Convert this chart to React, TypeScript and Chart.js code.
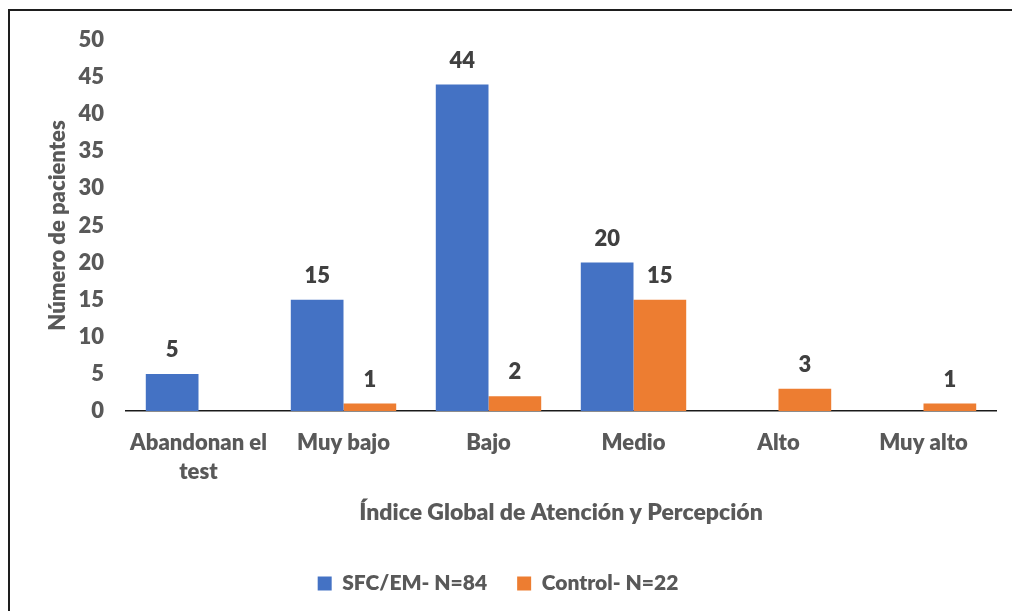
import React, { useEffect, useRef } from "react";
import { Chart, registerables } from "chart.js";

Chart.register(...registerables);

const categories: (string | string[])[] = [
  ["Abandonan el", "test"],
  "Muy bajo",
  "Bajo",
  "Medio",
  "Alto",
  "Muy alto",
];
const sfcValues: (number | null)[] = [5, 15, 44, 20, null, null];
const controlValues: (number | null)[] = [null, 1, 2, 15, 3, 1];
const seriesNames = ["SFC/EM- N=84", "Control- N=22"];
const yTicks = { min: 0, max: 50, step: 5 };
const yTitle = "Número de pacientes";
const xTitle = "Índice Global de Atención y Percepción";

const FONT = "Lato, 'Open Sans', sans-serif";
const W = 800;
const GRAY = "#595959";

const dataLabels = {
  id: "dataLabels",
  afterDatasetsDraw(chart: any) {
    const ctx = chart.ctx;
    ctx.save();
    ctx.font = `${W} 22px ${FONT}`;
    ctx.fillStyle = "#404040";
    ctx.textAlign = "center";
    ctx.textBaseline = "middle";
    chart.data.datasets.forEach((ds: any, i: number) => {
      const meta = chart.getDatasetMeta(i);
      meta.data.forEach((el: any, j: number) => {
        const v = ds.data[j];
        if (v === null || v === undefined) return;
        ctx.fillText(String(v), el.x, el.y - 24);
      });
    });
    ctx.restore();
  },
};

export default function App() {
  const ref = useRef<HTMLCanvasElement | null>(null);
  useEffect(() => {
    if (!ref.current) return;
    const chart = new Chart(ref.current, {
      type: "bar",
      data: {
        labels: categories as any,
        datasets: [
          {
            label: seriesNames[0],
            data: sfcValues,
            backgroundColor: "#4472C4",
            categoryPercentage: 0.727,
            barPercentage: 1,
          },
          {
            label: seriesNames[1],
            data: controlValues,
            backgroundColor: "#ED7D31",
            categoryPercentage: 0.727,
            barPercentage: 1,
          },
        ],
      },
      options: {
        responsive: false,
        animation: false,
        layout: { padding: { left: 0, right: 16, top: 40, bottom: 7 } },
        plugins: {
          legend: {
            position: "bottom",
            labels: {
              boxWidth: 14,
              boxHeight: 14,
              padding: 30,
              color: GRAY,
              font: { family: FONT, size: 21, weight: W as any },
            },
          },
          tooltip: { enabled: false },
        },
        scales: {
          x: {
            grid: { display: false, drawTicks: false },
            border: { display: true, color: "#1a1a1a", width: 1.5 },
            ticks: {
              color: GRAY,
              padding: 17,
              maxRotation: 0,
              font: { family: FONT, size: 22, weight: W as any, lineHeight: 1.32 },
            },
            title: {
              display: true,
              text: xTitle,
              color: GRAY,
              padding: { top: 0, bottom: 17 },
              font: { family: FONT, size: 23, weight: W as any, lineHeight: 1.2 },
            },
            afterFit: (s: any) => {
              s.height = 132;
            },
          },
          y: {
            min: yTicks.min,
            max: yTicks.max,
            grid: { display: false, drawTicks: false },
            border: { display: false },
            ticks: {
              stepSize: yTicks.step,
              color: GRAY,
              padding: 22,
              font: { family: FONT, size: 22, weight: W as any },
            },
            title: {
              display: true,
              text: yTitle,
              color: GRAY,
              padding: { top: 45, bottom: 0 },
              font: { family: FONT, size: 22, weight: W as any, lineHeight: 1.2 },
            },
            afterFit: (s: any) => {
              s.width = 126;
            },
          },
        },
      },
      plugins: [dataLabels],
    });
    return () => chart.destroy();
  }, []);

  return (
    <div
      style={{
        position: "fixed",
        left: 0,
        top: 0,
        width: 1012,
        height: 611,
        overflow: "hidden",
        background: "#fff",
      }}
    >
      <div
        style={{
          position: "absolute",
          left: 8,
          top: 9,
          width: 1100,
          height: 700,
          border: "2px solid #1e1e1e",
          boxSizing: "border-box",
        }}
      />
      <canvas
        ref={ref}
        width={1012}
        height={611}
        style={{ position: "absolute", left: 0, top: 0, width: 1012, height: 611 }}
      />
    </div>
  );
}
